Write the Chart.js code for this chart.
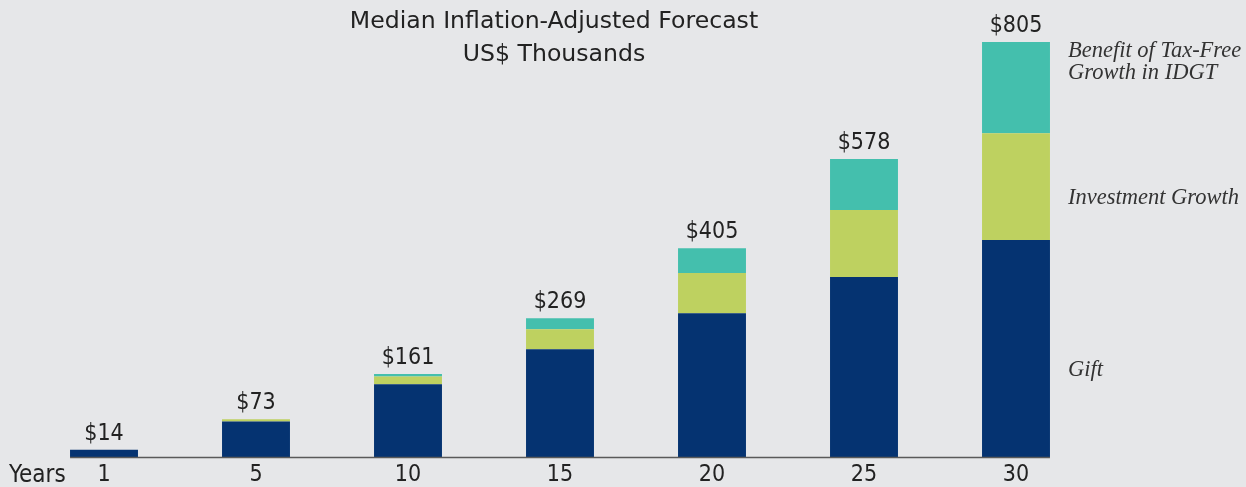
<!DOCTYPE html>
<html>
<head>
<meta charset="utf-8">
<title>Median Inflation-Adjusted Forecast</title>
<script src="https://cdn.jsdelivr.net/npm/chart.js@4.4.1/dist/chart.umd.min.js"></script>
<style>
  html, body { margin: 0; padding: 0; background: #e6e7e9; }
  #wrap { width: 1246px; height: 487px; position: relative; }
</style>
</head>
<body>
<div id="wrap"><canvas id="forecastChart"></canvas></div>
<script>
// ---- data (US$ thousands) ----
const years      = ['1', '5', '10', '15', '20', '25', '30'];
const gift       = [14, 69, 141, 209, 279, 349, 421];
const growth     = [0, 4, 15, 39, 78, 130, 207];
const taxFree    = [0, 0, 5, 21, 48, 99, 177];
const totals     = ['$14', '$73', '$161', '$269', '$405', '$578', '$805'];
const titleLines = ['Median Inflation-Adjusted Forecast', 'US$ Thousands'];
const sideLabels = [['Gift'], ['Investment Growth'], ['Benefit of Tax-Free', 'Growth in IDGT']];

const SANS  = '"DejaVu Sans Condensed", "DejaVu Sans", sans-serif';
const SERIF = '"Liberation Serif", "DejaVu Serif", serif';

// titles, totals, axis line, side labels
const decorations = {
  id: 'decorations',
  afterDatasetsDraw(chart) {
    const { ctx, scales } = chart;
    const x = scales.x, y = scales.y;
    const first = chart.getDatasetMeta(0).data[0];
    const last  = chart.getDatasetMeta(0).data[years.length - 1];

    ctx.save();
    // baseline
    ctx.strokeStyle = '#5a5a5a';
    ctx.lineWidth = 1.5;
    ctx.beginPath();
    ctx.moveTo(first.x - first.width / 2, y.getPixelForValue(0) + 0.5);
    ctx.lineTo(last.x + last.width / 2, y.getPixelForValue(0) + 0.5);
    ctx.stroke();

    // title
    ctx.fillStyle = '#222';
    ctx.textAlign = 'center';
    ctx.textBaseline = 'middle';
    ctx.font = '23.6px "DejaVu Sans", sans-serif';
    titleLines.forEach((t, i) => ctx.fillText(t, 554, 22 + i * 33));

    // totals above each stack
    ctx.font = '23px ' + SANS;
    ctx.textBaseline = 'alphabetic';
    years.forEach((_, i) => {
      const total = gift[i] + growth[i] + taxFree[i];
      ctx.fillText(totals[i], x.getPixelForValue(i), y.getPixelForValue(total) - 10);
    });

    // "Years" caption
    ctx.textAlign = 'left';
    ctx.textBaseline = 'middle';
    ctx.font = '24px ' + SANS;
    ctx.fillText('Years', 9, 476);

    // side labels next to the last stack
    ctx.font = 'italic 22.5px ' + SERIF;
    ctx.fillStyle = '#333';
    const lx = last.x + last.width / 2 + 18;
    const segs = [
      [0, gift[6]],
      [gift[6], gift[6] + growth[6]],
      [gift[6] + growth[6], gift[6] + growth[6] + taxFree[6]]
    ];
    const shift = [22, 11, -26];
    sideLabels.forEach((lines, k) => {
      const mid = (y.getPixelForValue(segs[k][0]) + y.getPixelForValue(segs[k][1])) / 2 + shift[k];
      lines.forEach((t, j) => {
        ctx.fillText(t, lx, mid + (j - (lines.length - 1) / 2) * 22);
      });
    });
    ctx.restore();
  }
};

new Chart(document.getElementById('forecastChart'), {
  type: 'bar',
  data: {
    labels: years,
    datasets: [
      { label: 'Gift', data: gift, backgroundColor: '#053371' },
      { label: 'Investment Growth', data: growth, backgroundColor: '#bed160' },
      { label: 'Benefit of Tax-Free Growth in IDGT', data: taxFree, backgroundColor: '#44bfad' }
    ]
  },
  options: {
    responsive: true,
    maintainAspectRatio: false,
    animation: false,
    layout: { padding: { left: 28, right: 154, top: 42, bottom: 0 } },
    datasets: { bar: { categoryPercentage: 1, barPercentage: 0.447, borderWidth: 0 } },
    plugins: { legend: { display: false }, tooltip: { enabled: false } },
    scales: {
      x: {
        stacked: true,
        grid: { display: false, drawTicks: false },
        border: { display: false },
        ticks: { color: '#222', font: { family: SANS, size: 23, lineHeight: 1 }, padding: 7 },
        afterFit(scale) { scale.height = 30; }
      },
      y: {
        stacked: true,
        display: false,
        min: 0,
        max: 805
      }
    }
  },
  plugins: [decorations]
});
</script>
</body>
</html>
